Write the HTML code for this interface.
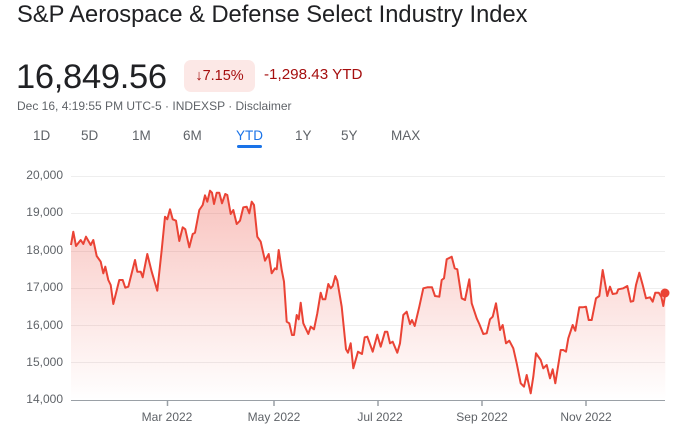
<!DOCTYPE html>
<html><head><meta charset="utf-8"><style>
body{margin:0;width:691px;height:441px;background:#fff;font-family:"Liberation Sans",Arial,sans-serif;position:relative;overflow:hidden;color:#202124}
.a{position:absolute;white-space:nowrap}
.tab{position:absolute;top:128px;font-size:13.5px;color:#5f6368}
.yl{position:absolute;right:628px;font-size:12px;color:#5f6368}
.xl{position:absolute;top:410px;font-size:12px;color:#5f6368;transform:translateX(-50%)}
</style></head><body>
<div class="a" style="left:17px;top:2px;font-size:23.7px">S&amp;P Aerospace &amp; Defense Select Industry Index</div>
<div class="a" style="left:16px;top:58px;font-size:34.5px;letter-spacing:-0.3px">16,849.56</div>
<div class="a" style="left:184px;top:60px;width:71px;height:32px;background:#fce8e6;border-radius:7px;color:#a50e0e;font-size:14.5px;line-height:32px;text-align:center">↓7.15%</div>
<div class="a" style="left:264px;top:66px;font-size:15.2px;color:#a50e0e">-1,298.43 YTD</div>
<div class="a" style="left:17px;top:99px;font-size:12px;color:#5f6368">Dec 16, 4:19:55 PM UTC-5 · INDEXSP · Disclaimer</div>
<div class="tab" style="left:33px">1D</div>
<div class="tab" style="left:81px">5D</div>
<div class="tab" style="left:132px">1M</div>
<div class="tab" style="left:183px">6M</div>
<div class="tab" style="left:236px;color:#1a73e8">YTD</div>
<div class="a" style="left:237px;top:145px;width:25px;height:3px;background:#1a73e8;border-radius:2px"></div>
<div class="tab" style="left:295px">1Y</div>
<div class="tab" style="left:341px">5Y</div>
<div class="tab" style="left:391px">MAX</div>
<div class="yl" style="top:168px">20,000</div>
<div class="yl" style="top:205px">19,000</div>
<div class="yl" style="top:243px">18,000</div>
<div class="yl" style="top:280px">17,000</div>
<div class="yl" style="top:318px">16,000</div>
<div class="yl" style="top:355px">15,000</div>
<div class="yl" style="top:392px">14,000</div>
<div class="xl" style="left:167px">Mar 2022</div>
<div class="xl" style="left:274px">May 2022</div>
<div class="xl" style="left:380px">Jul 2022</div>
<div class="xl" style="left:482px">Sep 2022</div>
<div class="xl" style="left:586px">Nov 2022</div>
<svg class="a" style="left:0;top:0" width="691" height="441">
<defs><linearGradient id="g" x1="0" y1="0" x2="0" y2="1"><stop offset="0" stop-color="#ea4335" stop-opacity="0.32"/><stop offset="1" stop-color="#ea4335" stop-opacity="0"/></linearGradient></defs>
<g stroke="#eeeeee" stroke-width="1">
<line x1="71" x2="665" y1="176.5" y2="176.5"/><line x1="71" x2="665" y1="213.5" y2="213.5"/><line x1="71" x2="665" y1="251.5" y2="251.5"/><line x1="71" x2="665" y1="288.5" y2="288.5"/><line x1="71" x2="665" y1="325.5" y2="325.5"/><line x1="71" x2="665" y1="362.5" y2="362.5"/>
</g>
<line x1="71" x2="665" y1="400.5" y2="400.5" stroke="#9aa0a6"/>
<g stroke="#9aa0a6" stroke-width="1.5"><line x1="167.5" x2="167.5" y1="400" y2="406"/><line x1="274" x2="274" y1="400" y2="406"/><line x1="378" x2="378" y1="400" y2="406"/><line x1="482" x2="482" y1="400" y2="406"/><line x1="586" x2="586" y1="400" y2="406"/></g>
<path id="f" fill="url(#g)"/>
<path id="l" fill="none" stroke="#ea4335" stroke-width="2" stroke-linejoin="round"/>
<circle cx="665" cy="293" r="4.5" fill="#ea4335"/>
</svg>
<script>
var a=[[33,225],[40,185],[48,228],[62,210],[70,222],[78,200],[92,225],[100,210],[110,258],[122,275],[130,310],[136,290],[145,330],[152,345],[160,402],[178,330],[188,330],[196,353],[205,350],[225,270],[232,305],[242,305],[248,322],[262,252],[275,305],[292,362],[305,240],[315,140],[322,148],[330,118],[338,148],[348,152],[358,213],[368,172],[376,178],[388,232],[398,192],[405,188],[418,120],[428,105],[435,76],[442,95],[450,62],[456,68],[462,102],[470,68],[478,68],[486,100],[496,72],[502,75],[512,132],[520,120],[530,162],[540,152],[550,112],[560,110],[568,130],[575,95],[582,105],[592,200],[602,215],[615,272],[626,252],[635,310],[645,295],[650,298],[656,240],[665,300],[672,335],[680,455],[688,460],[696,495],[702,495],[710,435],[716,448],[722,398],[730,460],[745,492],[752,470],[762,478],[772,430],[782,368],[788,388],[796,388],[805,342],[812,355],[818,348],[826,318],[832,332],[845,410],[858,538],[864,548],[872,520],[880,595],[894,545],[906,552],[914,502],[922,500],[938,545],[952,494]];
var b=[[22,495],[32,530],[45,485],[52,485],[60,520],[68,515],[82,548],[90,520],[100,435],[110,425],[120,462],[126,450],[134,468],[148,410],[160,355],[172,352],[186,352],[195,378],[208,380],[215,330],[222,325],[230,268],[245,260],[254,295],[262,298],[275,385],[285,390],[298,328],[305,400],[320,445],[328,462],[340,492],[350,490],[360,448],[368,440],[378,400],[390,480],[398,465],[408,520],[418,512],[430,535],[440,580],[452,640],[462,650],[470,615],[482,670],[490,620],[498,550],[512,570],[520,595],[530,585],[540,625],[548,598],[556,640],[572,540],[580,540],[588,545],[595,505],[608,465],[616,482],[628,412],[638,412],[648,410],[656,450],[665,450],[678,385],[688,378],[698,300],[712,378],[720,350],[728,372],[740,370],[745,358],[760,355],[772,348],[782,395],[790,393],[798,345],[808,308],[818,345],[828,385],[840,382],[848,395],[856,368],[866,368],[874,380],[880,408],[886,370]];
var p=[];a.forEach(function(q){p.push([60+q[0]/3,170+q[1]/3])});b.forEach(function(q){p.push([370+q[0]/3,170+q[1]/3])});
var d=p.map(function(q,i){return (i?'L':'M')+q[0].toFixed(1)+' '+q[1].toFixed(1)}).join('');
document.getElementById('l').setAttribute('d',d);
document.getElementById('f').setAttribute('d',d+'L'+p[p.length-1][0].toFixed(1)+' 400L'+p[0][0].toFixed(1)+' 400Z');
</script>
</body></html>
